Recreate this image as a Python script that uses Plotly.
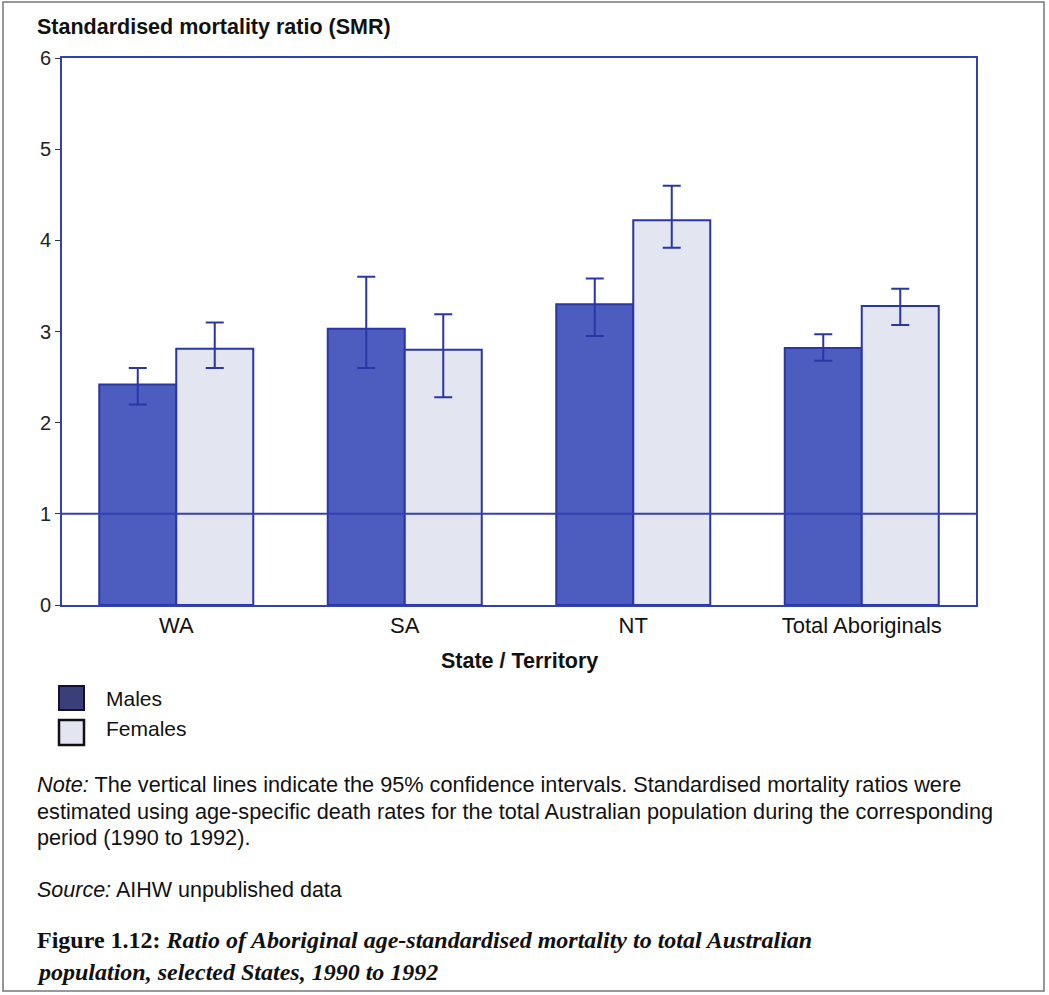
import plotly.graph_objects as go

categories = ["WA", "SA", "NT", "Total Aboriginals"]
males = [2.42, 3.03, 3.30, 2.82]
males_hi = [2.60, 3.60, 3.58, 2.97]
males_lo = [2.20, 2.60, 2.95, 2.68]
females = [2.81, 2.80, 4.22, 3.28]
females_hi = [3.10, 3.19, 4.60, 3.47]
females_lo = [2.60, 2.28, 3.92, 3.07]
y_ticks = [0, 1, 2, 3, 4, 5, 6]
reference_level = 1

W, H = 1049, 995
L, R, T, B = 62, 976, 58, 605


def px(x):
    return (x - L) / (R - L)


def py(y):
    return (B - y) / (B - T)


LINE = "#2b36a6"
MALE_FILL = "#4d5cbf"
FEMALE_FILL = "#e3e5f1"
FONT = "Liberation Sans, Arial, sans-serif"

fig = go.Figure()
fig.add_trace(go.Bar(
    x=categories, y=males, name="Males",
    marker=dict(color=MALE_FILL, line=dict(color=LINE, width=2)),
    error_y=dict(type="data", symmetric=False,
                 array=[h - v for h, v in zip(males_hi, males)],
                 arrayminus=[v - l for l, v in zip(males_lo, males)],
                 color=LINE, thickness=2, width=9),
))
fig.add_trace(go.Bar(
    x=categories, y=females, name="Females",
    marker=dict(color=FEMALE_FILL, line=dict(color=LINE, width=2)),
    error_y=dict(type="data", symmetric=False,
                 array=[h - v for h, v in zip(females_hi, females)],
                 arrayminus=[v - l for l, v in zip(females_lo, females)],
                 color=LINE, thickness=2, width=9),
))

shapes = [
    dict(type="line", xref="paper", yref="y", x0=0, x1=1,
         y0=reference_level, y1=reference_level,
         line=dict(color="#3340b0", width=2), layer="above"),
    # legend swatches
    dict(type="rect", xref="paper", yref="paper",
         x0=px(59), x1=px(84), y0=py(686), y1=py(710),
         fillcolor="#3a3f7a", line=dict(color="#111133", width=2)),
    dict(type="rect", xref="paper", yref="paper",
         x0=px(59), x1=px(84), y0=py(720), y1=py(745),
         fillcolor=FEMALE_FILL, line=dict(color="#111111", width=2.5)),
    # page frame
    dict(type="rect", xref="paper", yref="paper",
         x0=px(3), x1=px(1044), y0=py(2), y1=py(991),
         line=dict(color="#777777", width=1.5)),
]

ann = []


def text(x, y, s, size, xanchor="left", font=FONT, color="#111111"):
    ann.append(dict(x=px(x), y=py(y), xref="paper", yref="paper", text=s,
                    showarrow=False, xanchor=xanchor, yanchor="middle",
                    font=dict(family=font, size=size, color=color)))


text(35, 27, "<b>Standardised mortality ratio (SMR)</b>", 21.5)
text(519, 661, "<b>State / Territory</b>", 21.5, xanchor="center")
text(104, 698, "Males", 21)
text(104, 729, "Females", 21)
text(35, 785, "<i>Note:</i> The vertical lines indicate the 95% confidence intervals. Standardised mortality ratios were", 21.7)
text(35, 811, "estimated using age-specific death rates for the total Australian population during the corresponding", 21.7)
text(35, 837, "period (1990 to 1992).", 21.7)
text(35, 890, "<i>Source:</i> AIHW unpublished data", 21.5)
SERIF = "Liberation Serif, Times New Roman, serif"
text(35, 940, "<b>Figure 1.12: <i>Ratio of Aboriginal age-standardised mortality to total Australian</i></b>", 24, font=SERIF)
text(35, 972, "<b><i>population, selected States, 1990 to 1992</i></b>", 24, font=SERIF)

fig.update_layout(
    width=W, height=H,
    margin=dict(l=L, r=W - R, t=T, b=H - B, pad=0),
    paper_bgcolor="white", plot_bgcolor="white",
    barmode="group", bargap=0.326, bargroupgap=0,
    showlegend=False,
    shapes=shapes, annotations=ann,
    font=dict(family=FONT, color="#111111"),
    xaxis=dict(showline=True, mirror=True, linecolor="#3340b0", linewidth=2,
               showgrid=False, ticks="", tickfont=dict(size=22, color="#111111"),
               zeroline=False),
    yaxis=dict(range=[0, 6], tickvals=y_ticks, showline=True, mirror=True,
               linecolor="#3340b0", linewidth=2, showgrid=False, zeroline=False,
               ticks="outside", ticklen=5, tickcolor="#333333",
               tickfont=dict(size=20, color="#222222")),
)

fig.write_html("out.html")
